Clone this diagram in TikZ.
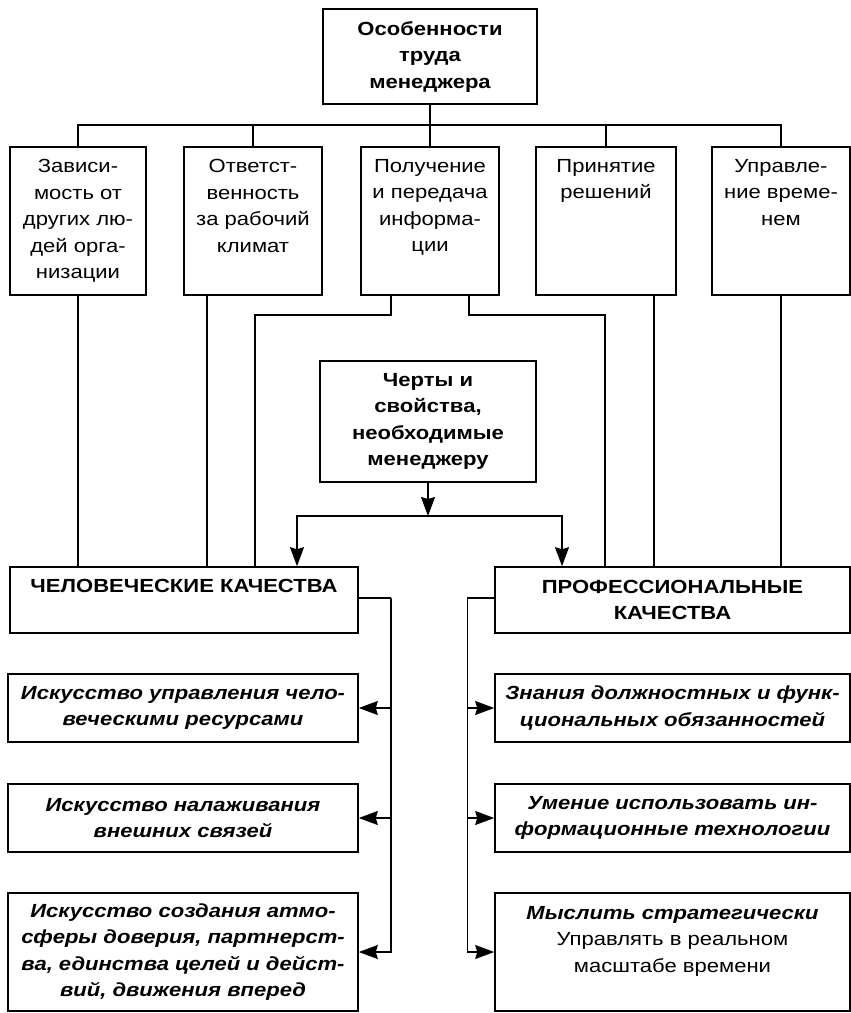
\documentclass[tikz,border=0pt]{standalone}
\usepackage{fontspec}
\setmainfont{Liberation Sans}[FakeStretch=1.16]
\usetikzlibrary{arrows.meta,calc,positioning}

\begin{document}
\begin{tikzpicture}[x=1pt,y=-1pt,>={Stealth[length=19pt,width=14pt,inset=2pt]},
  box/.style={draw,line width=1.6pt,inner sep=0pt,align=center,
    font=\fontsize{19}{26.5}\selectfont},
  txt/.style={align=center,inner sep=0pt,font=\fontsize{19}{26.5}\selectfont},
  head/.style={font=\fontsize{19}{26.5}\selectfont\bfseries},
  skill/.style={font=\fontsize{19}{26.5}\selectfont\bfseries\itshape},
  line/.style={line width=1.4pt}]
  \useasboundingbox (0,0) rectangle (851,1013);

  % top of the tree
  \node[box,head,minimum width=214pt,minimum height=95pt] (top) at (430,56.5)
    {Особенности\\труда\\менеджера};
  \coordinate (bus) at (0,125);

  \node[box,minimum width=136pt,minimum height=148pt] (b1) at (78,221) {};
  \node[box,minimum width=138pt,minimum height=148pt] (b2) at (253,221) {};
  \node[box,minimum width=138pt,minimum height=148pt] (b3) at (430,221) {};
  \node[box,minimum width=140pt,minimum height=148pt] (b4) at (606,221) {};
  \node[box,minimum width=138pt,minimum height=148pt] (b5) at (781,221) {};
  \node[txt,below=13pt of b1.north] {Зависи-\\мость от\\других лю-\\дей орга-\\низации};
  \node[txt,below=13pt of b2.north] {Ответст-\\венность\\за рабочий\\климат};
  \node[txt,below=13pt of b3.north] {Получение\\и передача\\информа-\\ции};
  \node[txt,below=13pt of b4.north] {Принятие\\решений};
  \node[txt,below=13pt of b5.north] {Управле-\\ние време-\\нем};

  \draw[line] (top) -- (b3);
  \draw[line] (b1.north) -- (b1.north |- bus) -- (b5.north |- bus) -- (b5.north);
  \foreach \n in {b2,b4} \draw[line] (\n.north) -- (\n.north |- bus);

  % middle
  \node[box,head,minimum width=216pt,minimum height=121pt] (traits) at (428,421.5)
    {Черты и\\свойства,\\необходимые\\менеджеру};
  \coordinate (split) at (428,516);

  \node[box,minimum width=348pt,minimum height=66pt] (hum) at (184,600) {};
  \node[txt,head,below=13pt of hum.north] {ЧЕЛОВЕЧЕСКИЕ КАЧЕСТВА};
  \node[box,head,minimum width=355pt,minimum height=66pt] (prof) at (672.5,600)
    {ПРОФЕССИОНАЛЬНЫЕ\\КАЧЕСТВА};

  \draw[line,->] (traits) -- (split);
  \draw[line,->] (split) -| ([xshift=113pt]hum.north);
  \draw[line,->] (split) -| ([xshift=-110.5pt]prof.north);

  \draw[line] (b1.south) -- (b1.south |- hum.north);
  \draw[line] ([xshift=-46pt]b2.south) -- ([xshift=-46pt]b2.south |- hum.north);
  \draw[line] ([xshift=-39pt]b3.south) -- ++(0,19) -| ([xshift=71pt]hum.north);
  \draw[line] ([xshift=39pt]b3.south) -- ++(0,19) -| ([xshift=-67.5pt]prof.north);
  \draw[line] ([xshift=48pt]b4.south) -- ([xshift=48pt]b4.south |- prof.north);
  \draw[line] (b5.south) -- (b5.south |- prof.north);

  % lower boxes
  \node[box,skill,minimum width=350pt,minimum height=68pt] (L1) at (183,708)
    {Искусство управления чело-\\веческими ресурсами};
  \node[box,skill,minimum width=350pt,minimum height=68pt] (L2) at (183,818)
    {Искусство налаживания\\внешних связей};
  \node[box,skill,minimum width=350pt,minimum height=118pt] (L3) at (183,952)
    {Искусство создания атмо-\\сферы доверия, партнерст-\\ва, единства целей и дейст-\\вий, движения вперед};
  \node[box,skill,minimum width=355pt,minimum height=68pt] (R1) at (672.5,708)
    {Знания должностных и функ-\\циональных обязанностей};
  \node[box,skill,minimum width=355pt,minimum height=68pt] (R2) at (672.5,818)
    {Умение использовать ин-\\формационные технологии};
  \node[box,minimum width=355pt,minimum height=118pt] (R3) at (672.5,952) {};
  \node[txt,below=14pt of R3.north]
    {{\bfseries\itshape Мыслить стратегически}\\Управлять в реальном\\масштабе времени};

  \draw[line] ([yshift=2pt]hum.east) -- ++(32,0) coordinate (hbus);
  \draw[line] ([yshift=2pt]prof.west) -- ++(-27,0) coordinate (pbus);
  \foreach \n in {L1,L2,L3} \draw[line,->] (hbus) |- (\n.east);
  \foreach \n in {R1,R2,R3} \draw[line,->] (pbus) |- (\n.west);
\end{tikzpicture}
\end{document}
